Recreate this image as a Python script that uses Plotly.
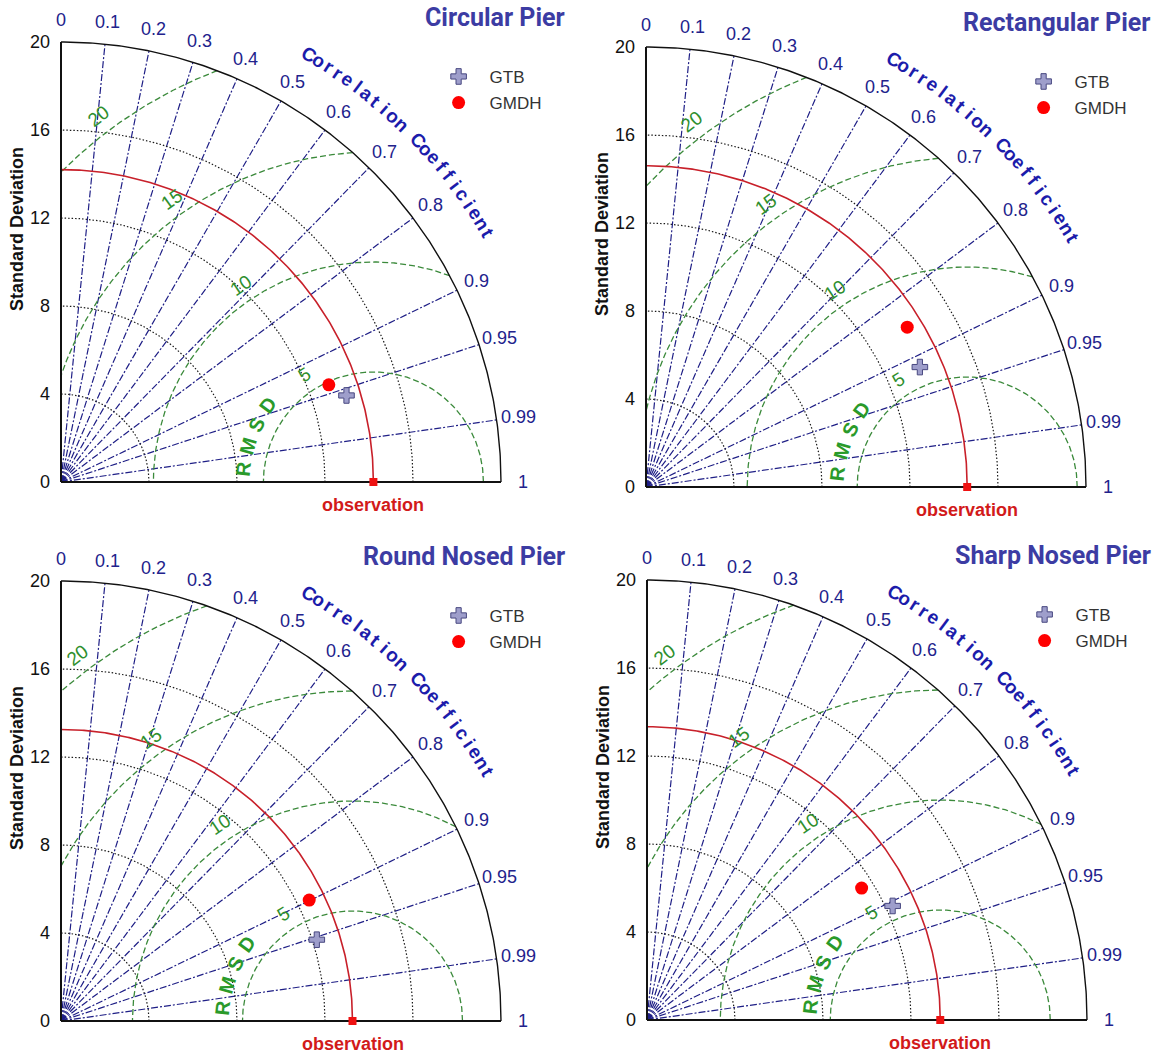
import numpy as np
import plotly.graph_objects as go

# ---------------- data ----------------
panel_titles = ["Circular Pier", "Rectangular Pier", "Round Nosed Pier", "Sharp Nosed Pier"]
obs_std = [14.2, 14.6, 13.25, 13.33]
gtb_std = [13.56, 13.59, 12.20, 12.31]
gtb_cor = [0.957, 0.916, 0.953, 0.907]
gmdh_std = [12.95, 13.92, 12.55, 11.45]
gmdh_cor = [0.940, 0.853, 0.899, 0.852]
series_names = ["GTB", "GMDH"]
std_ticks = [0, 4, 8, 12, 16, 20]
cor_ticks = [0.0, 0.1, 0.2, 0.3, 0.4, 0.5, 0.6, 0.7, 0.8, 0.9, 0.95, 0.99, 1.0]
cor_tick_labels = ["0", "0.1", "0.2", "0.3", "0.4", "0.5", "0.6", "0.7", "0.8", "0.9", "0.95", "0.99", "1"]
rmsd_ticks = [5, 10, 15, 20]
rmsd_title = "RMSD"
cor_title = "Correlation Coefficient"
obs_label = "observation"
std_title = "Standard Deviation"

# ---------------- layout constants ----------------
W, H = 1156, 1056
S = 22.0                      # pixels per std unit
R_MAX = 20.0
ORIGINS = [(61, 482), (646, 487), (61, 1021), (647, 1020)]
XR = (-2.7, 23.1)
YR = (-1.4, 21.8)
FONT = "Liberation Sans, Arial, sans-serif"

BLUE_LINE = "#1f1f86"
GREEN = "#3b8a3b"
RED_ARC = "#c8202a"

fig = go.Figure()
annotations = []


def arc(r, t0=0.0, t1=np.pi / 2, n=240, cx=0.0):
    t = np.linspace(t0, t1, n)
    return list(cx + r * np.cos(t)), list(r * np.sin(t))


for i in range(4):
    n = "" if i == 0 else str(i + 1)
    xa, ya = "x" + n, "y" + n
    ox, oy = ORIGINS[i]
    fig.update_layout(**{
        "xaxis" + n: dict(domain=[(ox + XR[0] * S) / W, (ox + XR[1] * S) / W],
                          range=list(XR), visible=False, anchor=ya, fixedrange=True),
        "yaxis" + n: dict(domain=[1 - (oy - YR[0] * S) / H, 1 - (oy - YR[1] * S) / H],
                          range=list(YR), visible=False, anchor=xa, fixedrange=True),
    })
    common = dict(xaxis=xa, yaxis=ya, showlegend=False, hoverinfo="skip")

    # correlation rays
    cx, cy = [], []
    for c in cor_ticks:
        if 0 < c < 1:
            th = np.arccos(c)
            cx += [0, R_MAX * np.cos(th), None]
            cy += [0, R_MAX * np.sin(th), None]
    fig.add_trace(go.Scatter(x=cx, y=cy, mode="lines",
                             line=dict(color=BLUE_LINE, width=1.2, dash="7px,2px,2px,2px"), **common))

    # std dotted arcs
    sx, sy = [], []
    for r in std_ticks:
        if 0 < r < R_MAX:
            ax_, ay_ = arc(r)
            sx += ax_ + [None]
            sy += ay_ + [None]
    fig.add_trace(go.Scatter(x=sx, y=sy, mode="lines",
                             line=dict(color="#1a1a1a", width=1.2, dash="1.5px,2px"), **common))

    # RMSD circles around observation
    o = obs_std[i]
    gx_, gy_ = [], []
    for R in rmsd_ticks:
        t_lo = 0.0
        if o + R > R_MAX:
            t_lo = np.arccos(np.clip((R_MAX ** 2 - o ** 2 - R ** 2) / (2 * o * R), -1, 1))
        t_hi = np.pi
        if R > o:
            t_hi = np.arccos(-o / R)
        if t_hi > t_lo:
            ax_, ay_ = arc(R, t_lo, t_hi, 300, cx=o)
            gx_ += ax_ + [None]
            gy_ += ay_ + [None]
    fig.add_trace(go.Scatter(x=gx_, y=gy_, mode="lines",
                             line=dict(color=GREEN, width=1.3, dash="6px,3px"), **common))

    # observation arc
    ax_, ay_ = arc(o)
    fig.add_trace(go.Scatter(x=ax_, y=ay_, mode="lines",
                             line=dict(color=RED_ARC, width=1.6), **common))

    # frame: outer arc + axes
    ax_, ay_ = arc(R_MAX)
    fig.add_trace(go.Scatter(x=ax_, y=ay_, mode="lines",
                             line=dict(color="#111111", width=1.4), **common))
    fig.add_trace(go.Scatter(x=[0, 0, None, 0, R_MAX], y=[R_MAX, 0, None, 0, 0], mode="lines",
                             line=dict(color="#111111", width=2), **common))

    # observation marker
    fig.add_trace(go.Scatter(x=[o], y=[0], mode="markers", cliponaxis=False,
                             marker=dict(symbol="square", size=8, color="#ee1111"), **common))

    # models
    leg = "legend" + n
    for name, sd, cr, mk in [
        (series_names[0], gtb_std[i], gtb_cor[i],
         dict(symbol="cross", size=13, color="#9e9ecb", line=dict(color="#484880", width=1))),
        (series_names[1], gmdh_std[i], gmdh_cor[i],
         dict(symbol="circle", size=13, color="#ff0000", line=dict(width=0))),
    ]:
        th = np.arccos(cr)
        fig.add_trace(go.Scatter(x=[sd * np.cos(th)], y=[sd * np.sin(th)], mode="markers",
                                 name=name, marker=mk, xaxis=xa, yaxis=ya, legend=leg,
                                 legendgroup=f"{name}{i}", showlegend=True, cliponaxis=False))

    lx = (ox + 17.8 * S - 25) / W
    ly = 1 - (oy - 18.05 * S - 26) / H
    fig.update_layout(**{leg: dict(x=lx, y=ly, xanchor="left", yanchor="top",
                                   bgcolor="rgba(0,0,0,0)", borderwidth=0,
                                   font=dict(family=FONT, size=17, color="#333333"),
                                   itemwidth=52, tracegroupgap=1, traceorder="grouped")})

    ann = dict(xref=xa, yref=ya, showarrow=False, xanchor="center", yanchor="middle")

    # std tick labels
    for v in std_ticks:
        annotations.append(dict(ann, x=-0.4, y=v, xanchor="right", text=str(v),
                                font=dict(family=FONT, size=18, color="#111111")))

    # correlation tick labels
    for c, lab in zip(cor_ticks, cor_tick_labels):
        th = np.arccos(c)
        annotations.append(dict(ann, x=21.0 * np.cos(th), y=21.0 * np.sin(th), text=lab,
                                font=dict(family=FONT, size=18, color="#22228c")))

    # curved "Correlation Coefficient"
    a0, a1 = 59.9, 30.2
    nch = len(cor_title)
    for k, ch in enumerate(cor_title):
        if ch == " ":
            continue
        ang = a0 + (a1 - a0) * k / (nch - 1)
        rad = np.radians(ang)
        annotations.append(dict(ann, x=22.45 * np.cos(rad), y=22.45 * np.sin(rad), text=ch,
                                textangle=90 - ang,
                                font=dict(family=FONT, size=19, color="#1c1cab", weight="bold")))

    # RMSD tick labels
    for k, R in enumerate(rmsd_ticks):
        ang = 122.5 + 1.5 * k
        rad = np.radians(ang)
        annotations.append(dict(ann, x=o + (R + 0.8) * np.cos(rad), y=(R + 0.8) * np.sin(rad),
                                text=str(R), textangle=90 - ang,
                                font=dict(family=FONT, size=19, color="#2e8f2e")))
    # RMSD title letters along an arc
    for k, ch in enumerate(rmsd_title):
        ang = 174 - 10 * k
        rad = np.radians(ang)
        annotations.append(dict(ann, x=o + 5.92 * np.cos(rad), y=5.92 * np.sin(rad),
                                text=ch, textangle=90 - ang,
                                font=dict(family=FONT, size=20, color="#2a9a2a", weight="bold")))

    # observation label
    annotations.append(dict(ann, x=o, y=-1.05, text=obs_label,
                            font=dict(family=FONT, size=18, color="#d21a1a", weight="bold")))
    # panel title
    annotations.append(dict(ann, x=23.0, y=21.12, xanchor="right", text=panel_titles[i],
                            font=dict(family="Roboto, sans-serif", size=25, color="#3c3ca3",
                                      weight="bold")))
    # std axis title
    annotations.append(dict(ann, x=-2.0, y=11.5, text=std_title, textangle=-90,
                            font=dict(family=FONT, size=18, color="#111111", weight="bold")))

fig.update_layout(width=W, height=H, margin=dict(l=0, r=0, t=0, b=0),
                  paper_bgcolor="white", plot_bgcolor="rgba(0,0,0,0)",
                  annotations=annotations)

fig.write_html("out.html", config={"displayModeBar": False},
               post_script="document.body.style.margin='0px';"
                           "document.body.style.padding='0px';"
                           "document.body.style.overflow='hidden';")
